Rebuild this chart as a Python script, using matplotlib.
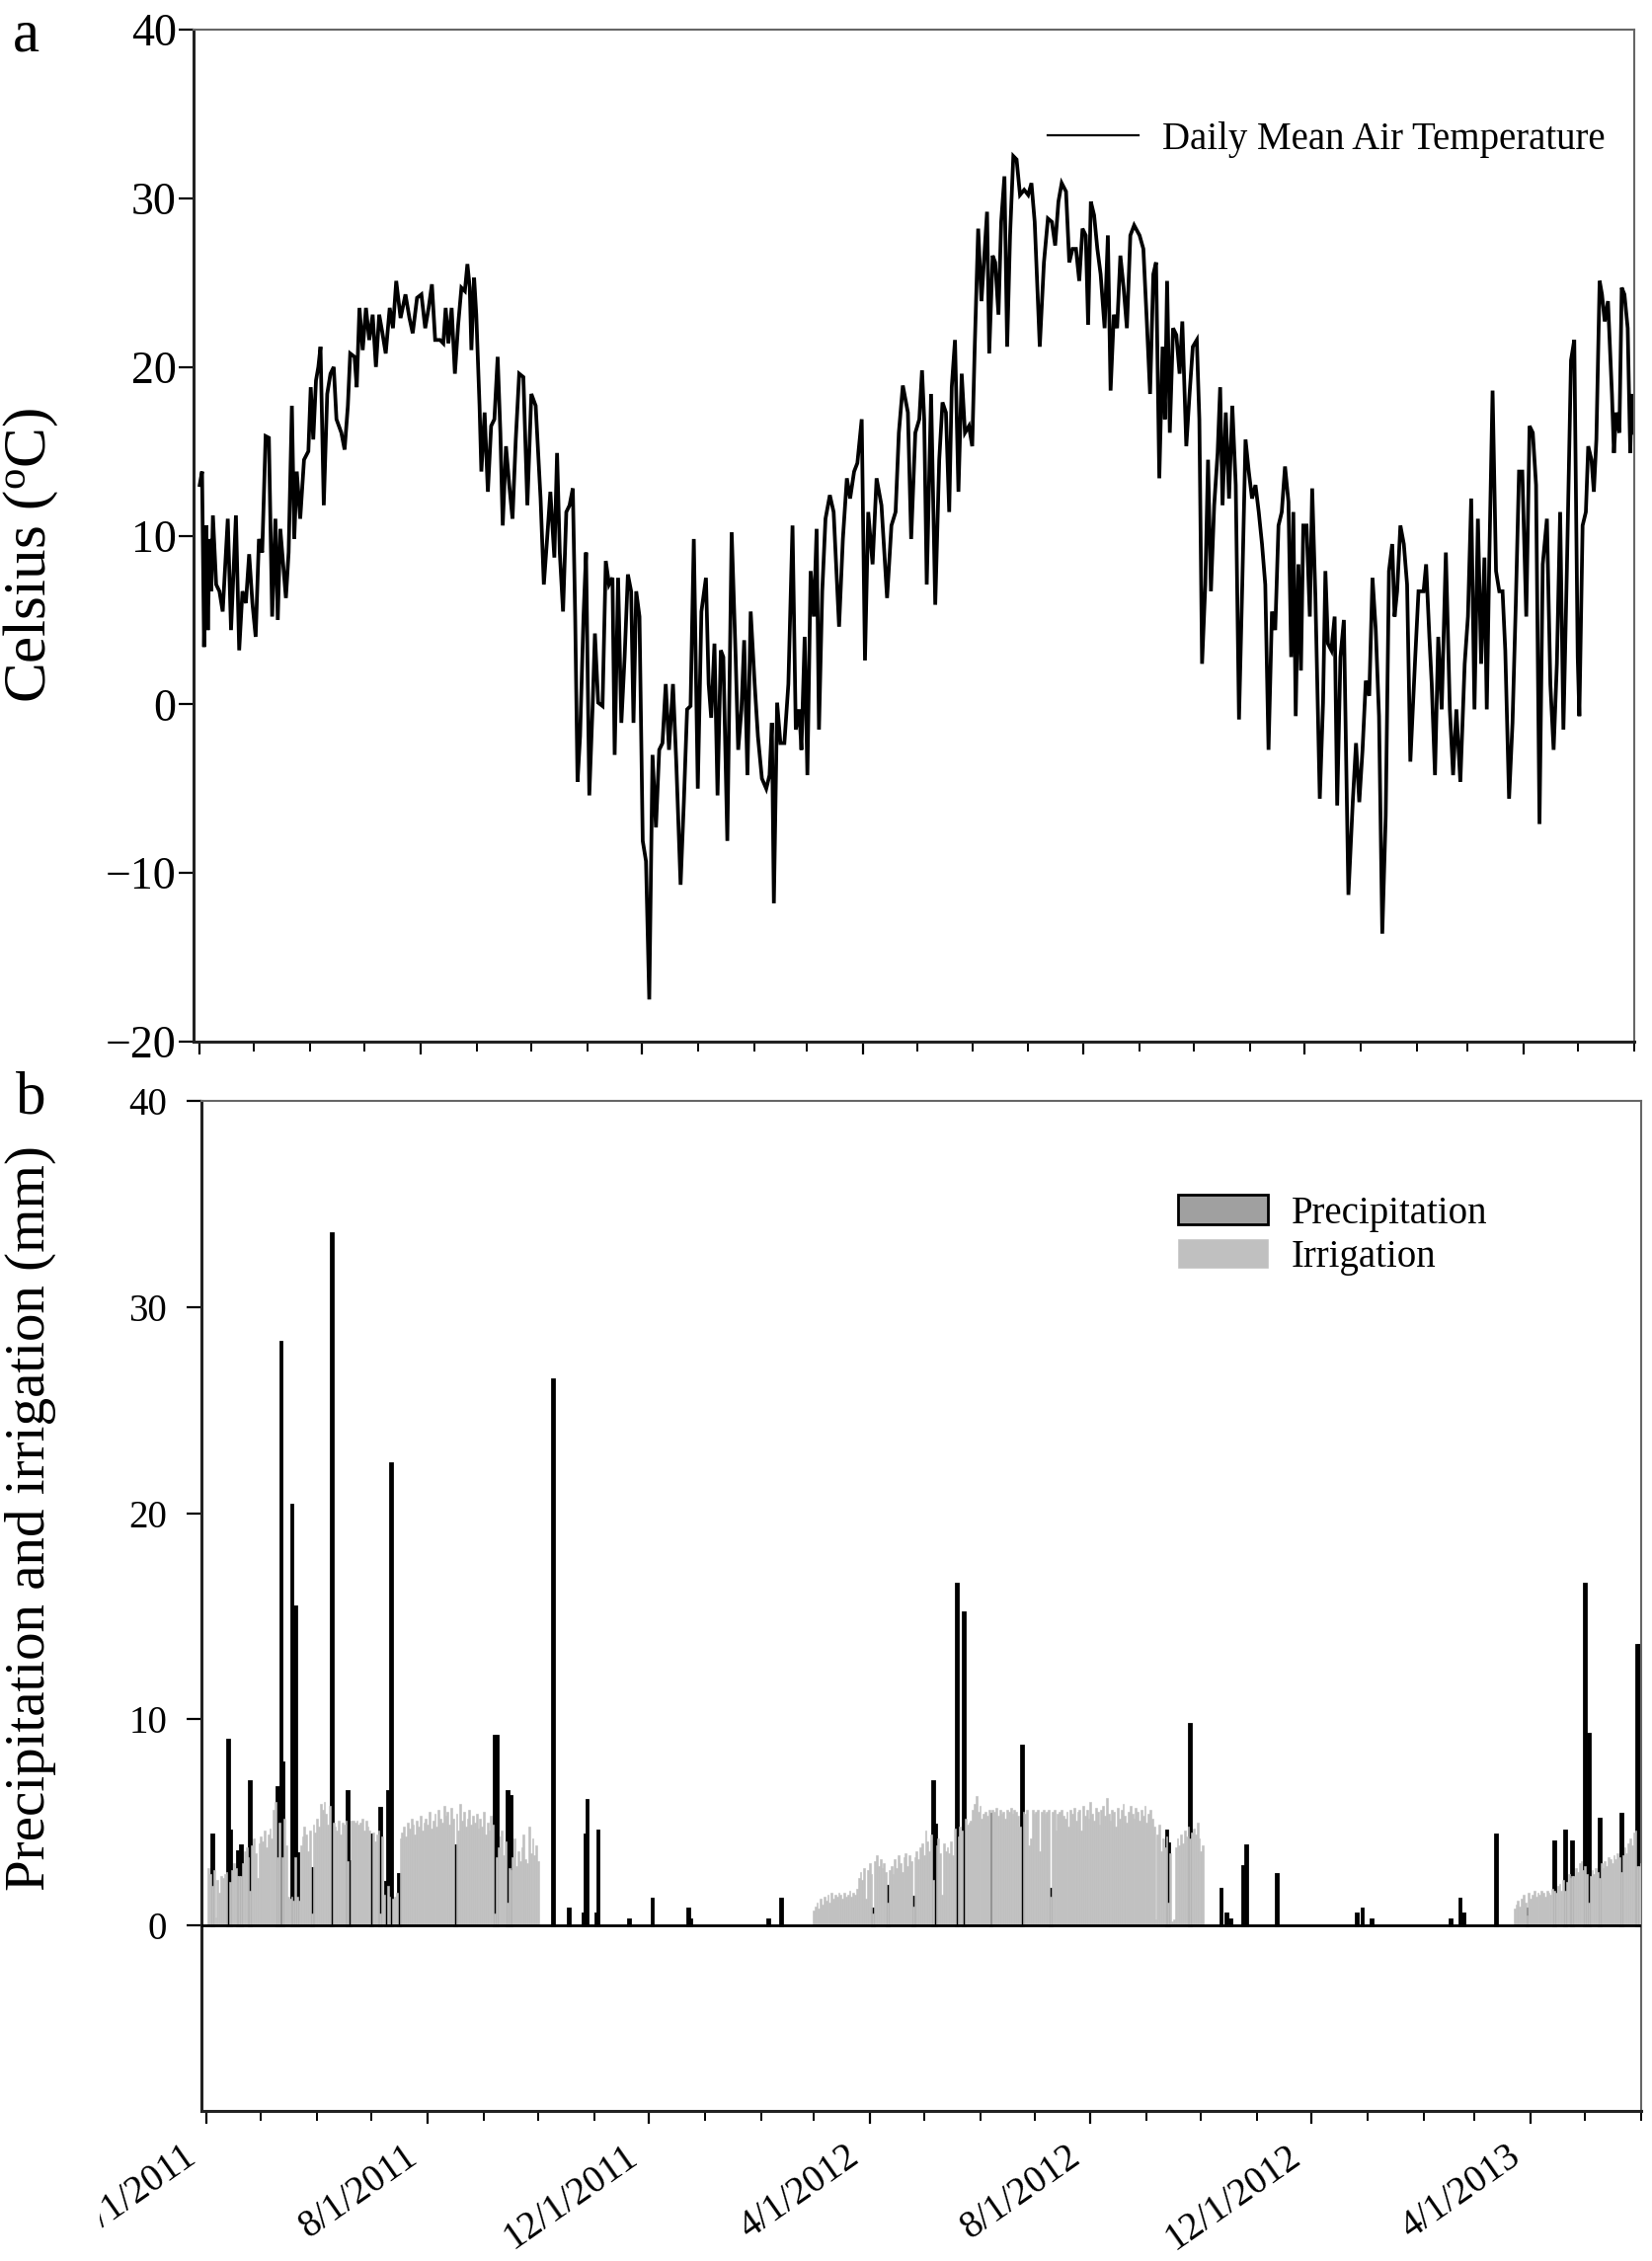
import matplotlib
matplotlib.use('Agg')
import matplotlib.pyplot as plt
import matplotlib.dates as mdates
from matplotlib.ticker import FixedLocator, NullFormatter
from matplotlib.transforms import Bbox, TransformedBbox, ScaledTranslation
from datetime import datetime
import numpy as np

plt.rcParams['font.family'] = ['Liberation Serif', 'DejaVu Serif']
plt.rcParams['mathtext.fontset'] = 'custom'
plt.rcParams['mathtext.rm'] = 'Liberation Serif'
plt.rcParams['mathtext.it'] = 'Liberation Serif:italic'
plt.rcParams['axes.unicode_minus'] = True

# ---------------- data ----------------
START = datetime(2011, 4, 1)

# (days since 4/1/2011, daily mean air temperature in deg C)
temp_readings = [
 (0.0,13.0),(1.3,13.8),(2.4,3.4),(3.6,10.6),(4.5,4.4),(5.5,9.8),(6.4,6.7),(7.3,11.2),(9.1,7.1),(10.9,6.7),
 (12.7,5.5),(15.5,11.0),(17.3,4.4),(20.0,11.2),(21.8,3.2),(23.6,6.7),(25.5,6.0),(27.3,8.9),(29.1,6.0),(30.9,4.0),
 (32.7,9.8),(34.5,9.0),(36.4,15.9),(38.2,15.8),(40.0,5.2),(41.8,11.0),(43.1,5.0),(44.5,10.4),(46.4,7.9),(47.6,6.3),
 (49.1,9.0),(50.9,17.7),(52.2,9.8),(53.6,13.8),(55.5,11.0),(57.6,14.5),(60.0,15.0),(61.3,18.8),(62.7,15.7),(64.2,19.2),
 (65.5,20.0),(66.7,21.2),(68.5,11.8),(70.4,18.4),(72.2,19.6),(74.0,20.0),(75.5,16.9),(78.2,16.1),(80.0,15.1),(81.8,17.7),
 (83.1,20.8),(85.5,20.6),(86.7,18.8),(88.2,23.5),(90.0,21.0),(91.8,23.5),(93.6,21.6),(95.5,23.1),(97.3,20.0),(99.1,23.1),
 (100.9,22.0),(102.7,20.8),(104.9,23.5),(106.7,22.3),(108.5,25.1),(110.9,22.9),(113.6,24.3),(115.8,22.9),(117.6,22.0),(120.0,24.1),
 (122.4,24.3),(124.5,22.3),(126.4,23.5),(128.2,24.9),(130.0,21.6),(132.7,21.6),(134.5,21.4),(135.8,23.5),(137.3,21.4),(139.1,23.5),
 (140.9,19.6),(142.7,22.5),(144.5,24.7),(146.4,24.5),(147.8,26.1),(149.1,24.7),(150.0,21.0),(151.5,25.3),(152.7,23.1),(154.5,17.7),
 (155.5,13.8),(157.3,17.3),(159.1,12.6),(160.9,16.5),(162.7,16.9),(164.5,20.6),(166.0,16.1),(167.3,10.6),(169.1,15.3),(170.9,13.0),
 (172.7,11.0),(174.5,15.7),(176.4,19.6),(178.7,19.4),(180.9,11.8),(183.1,18.4),(185.5,17.7),(188.2,12.2),(190.0,7.1),(191.8,9.8),
 (193.6,12.6),(195.8,8.7),
 (197.3,14.9),(198.8,9.0),(200.6,5.5),(202.4,11.4),(204.2,11.8),(206.0,12.8),(207.3,5.2),(208.6,-4.6),(210.0,-1.9),(211.9,5.2),
 (213.3,9.0),(215.1,-5.4),(217.0,0.1),(218.2,4.2),(220.0,0.1),(222.4,-0.1),(224.2,8.5),(226.0,7.1),(227.9,7.5),(229.1,-3.0),
 (231.0,7.5),(232.8,-1.1),(234.6,2.8),(236.4,7.7),(238.2,6.7),(239.5,-1.1),(241.0,6.7),(242.8,5.2),(244.6,-8.1),(246.4,-9.3),
 (248.2,-17.5),(250.0,-3.0),(251.9,-7.3),(253.7,-2.7),(255.5,-2.3),(257.3,1.2),(259.1,-2.7),(261.3,1.2),(263.1,-3.4),(265.5,-10.7),
 (267.3,-5.8),(269.1,-0.3),(271.0,-0.1),(272.8,9.8),(275.0,-5.0),(277.0,5.5),(279.5,7.5),(281.0,1.2),(282.4,-0.8),(284.2,3.6),
 (285.9,-5.4),(287.7,3.2),(289.1,2.8),(291.3,-8.1),(293.7,10.2),(295.9,2.8),(297.3,-2.7),(299.1,-0.3),(300.6,3.8),(302.4,-4.2),
 (304.2,5.5),(306.4,1.2),(308.2,-1.9),(310.4,-4.4),(312.8,-5.0),(314.6,-4.2),(315.9,-1.1),(317.0,-11.8),(318.8,0.1),(320.6,-2.3),
 (322.8,-2.3),(325.0,1.2),(327.3,10.6),(329.1,-1.5),(331.0,-0.3),(332.2,-2.7),(334.0,4.0),(335.5,-4.2),(337.3,7.9),(339.1,5.2),
 (340.6,10.4),(341.9,-1.5),(343.7,6.7),(345.5,11.0),(347.9,12.4),(350.0,11.4),(353.0,4.6),(355.1,9.8),(357.3,13.4),(359.1,12.2),
 (361.3,13.8),(363.1,14.3),(365.5,16.9),(367.3,2.6),(369.1,11.4),(371.5,8.3),(373.7,13.4),(376.4,11.8),(379.5,6.3),(381.9,10.6),
 (384.2,11.4),(386.0,16.1),(388.2,18.9),(391.0,17.3),(392.8,9.8),(395.1,16.1),(397.3,16.9),(398.8,19.8),(400.0,16.9),
 (401.4,7.1),(403.8,18.4),(406.1,5.9),(408.3,14.5),(410.1,17.9),(412.0,17.3),(413.8,11.4),(415.2,18.8),(417.0,21.6),(418.9,12.6),
 (420.7,19.6),(422.5,16.1),(424.7,16.5),(426.5,15.3),(427.9,21.2),(429.8,28.2),(431.6,23.9),(433.4,27.0),(434.7,29.2),(435.9,20.8),
 (437.8,26.6),(439.2,26.2),(441.0,23.1),(442.5,28.6),(444.3,31.3),(445.8,21.2),(447.4,27.8),(449.2,32.5),(451.0,32.3),(452.9,30.2),
 (455.2,30.5),(457.4,30.2),(459.2,30.9),(461.0,28.6),(463.8,21.2),(466.1,26.2),(468.3,28.8),(470.5,28.6),(472.3,27.2),(474.1,29.8),
 (475.9,30.9),(478.3,30.4),(480.1,26.2),(481.9,27.0),(483.8,27.0),(485.6,25.1),(487.4,28.2),(489.2,27.8),(490.5,22.5),(492.0,29.8),
 (493.8,29.0),(495.6,27.0),(497.4,25.5),(499.6,22.3),(501.4,27.8),(502.9,18.6),(504.7,23.1),(506.5,22.3),(508.3,26.6),(510.1,24.7),
 (511.9,22.3),(513.8,27.8),(515.9,28.4),(518.9,27.8),(521.0,27.0),(522.9,22.7),(524.7,18.4),(526.5,25.5),(528.0,26.2),(529.8,13.4),
 (531.6,21.2),(532.9,16.9),(534.1,25.1),(535.6,16.1),(537.4,22.3),(539.2,21.9),(541.0,19.6),(542.5,22.7),(544.7,15.3),(546.5,18.4),
 (548.3,21.2),(550.5,21.6),(551.9,16.9),(553.4,2.4),(555.2,7.1),(556.7,14.5),(558.3,6.7),(560.1,11.8),(562.0,14.9),(563.4,18.8),
 (564.7,11.8),(566.5,17.3),(568.3,12.2),(570.1,17.7),(572.0,13.0),(573.8,-0.9),(575.6,7.1),(577.4,15.7),(579.2,13.8),(581.0,12.2),
 (582.9,13.0),(584.7,11.4),(586.5,9.5),(588.3,7.1),(590.1,-2.7),(592.0,5.5),(593.8,4.4),(595.6,10.6),(597.4,11.4),(599.2,14.1),
 (601.1,12.0),(602.6,2.8),(603.8,11.4),(605.1,-0.7),(606.6,8.3),(608.0,2.0),(609.3,10.6),(611.1,10.6),(612.9,5.2),(614.2,12.8),
 (616.0,6.3),(618.4,-5.6),(620.2,0.1),(621.5,7.9),(622.9,3.6),(624.8,3.2),(626.6,5.2),(628.0,-6.0),(629.8,2.8),(631.7,5.0),
 (634.2,-11.3),(636.6,-5.8),(638.4,-2.3),(640.2,-5.8),(642.0,-2.7),(643.8,1.4),(645.7,0.5),(647.5,7.5),(649.3,4.4),(651.1,-0.7),
 (652.9,-13.6),(654.8,-6.6),(656.6,7.9),(658.4,9.5),(659.7,5.2),(661.1,6.7),(662.9,10.6),(664.8,9.5),(666.6,7.1),(668.4,-3.4),
 (671.1,2.8),(672.9,6.7),(675.7,6.7),(677.1,8.3),(678.9,4.0),(680.2,1.2),(682.0,-4.2),(683.8,4.0),(685.7,-0.3),(688.0,9.0),
 (690.2,-0.3),(692.0,-4.2),(693.8,-0.3),(696.0,-4.6),(698.4,2.4),(700.2,5.2),(702.0,12.2),(703.8,-0.3),(705.7,11.0),(707.5,2.4),
 (709.3,8.7),(710.6,-0.3),(712.0,8.7),(713.8,18.6),(715.7,7.9),(717.5,6.7),(719.3,6.7),(720.8,3.2),(722.9,-5.6),(724.8,-1.1),
 (726.6,5.9),(728.4,13.8),(730.2,13.8),(732.4,5.2),(734.2,16.5),(736.0,16.1),(737.8,13.0),(739.7,-7.1),(741.5,8.3),(743.8,11.0),
 (745.7,1.2),(747.5,-2.7),(749.3,2.4),(751.1,11.4),(752.9,-1.5),(754.8,7.9),(757.1,20.4),(758.9,21.6),(760.8,2.8),(761.7,-0.7),
 (763.5,10.6),(765.3,11.4),(766.6,15.3),(768.4,14.5),(769.7,12.6),(771.1,15.7),(772.9,25.1),(774.2,24.3),(775.7,22.7),(777.5,23.9),
 (779.7,18.4),(780.8,14.9),(782.0,17.3),(783.8,16.1),(785.1,24.7),(786.6,24.3),(788.4,22.3),(789.8,14.9),(790.6,18.4),(791.7,16.1),
]
temp_day = [p[0] for p in temp_readings]
temp_c = [p[1] for p in temp_readings]

# precipitation events (days since 4/1/2011, mm)
precip_day = [3, 12, 13, 17, 19, 24, 39, 41, 42, 47, 49, 50, 58, 69, 78, 79, 91, 96, 99, 100,
              102, 106, 137, 159, 160, 166, 168, 191, 200, 208, 209, 210, 215, 216, 233, 246, 266, 267, 310, 317,
              368, 376, 390, 401, 402, 414, 418, 433, 450, 466, 530, 531, 543, 560, 563, 565, 572, 574, 591, 635,
              638, 643, 687, 692, 694, 712, 729, 744, 750, 754, 761, 763, 769, 781, 790, 791]
precip_mm = [4.4, 9.0, 4.6, 3.6, 3.9, 7.0, 6.7, 28.3, 7.9, 20.4, 15.5, 3.5, 2.8, 33.6, 6.5, 3.1, 4.4, 5.7, 2.1, 6.5,
             22.4, 2.5, 3.9, 9.2, 9.2, 6.5, 6.3, 26.5, 0.8, 0.6, 4.4, 6.1, 0.6, 4.6, 0.3, 1.3, 0.8, 0.3, 0.3, 1.3,
             0.8, 1.9, 1.4, 7.0, 4.9, 16.6, 15.2, 5.4, 8.7, 1.8, 4.6, 4.0, 9.8, 1.8, 0.6, 0.3, 2.9, 3.9, 2.5, 0.6,
             0.8, 0.3, 0.3, 1.3, 0.6, 4.4, 0.8, 4.1, 4.6, 4.1, 16.6, 9.3, 5.2, 5.4, 13.6, 13.6]

# daily irrigation (mm), three seasons; first day of each season in days since 4/1/2011
irr2011_first_day = 1
irr2011 = [2.8, 2.5, 1.9, 2.7, 0.4, 2.2, 1.6, 2.4, 2.3, 2.5,
           2.6, 0.0, 2.1, 2.7, 3.0, 2.8, 2.4, 2.4, 2.4, 3.0,
           3.6, 3.8, 3.3, 1.7, 3.9, 4.2, 3.5, 2.3, 4.0, 4.3,
           4.1, 4.6, 3.8, 4.4, 4.7, 4.2, 5.6, 6.0, 3.3, 5.0,
           0.0, 3.3, 5.2, 3.9, 1.4, 1.3, 1.4, 1.2, 3.3, 1.4,
           1.2, 3.9, 4.3, 4.8, 4.4, 3.6, 4.6, 0.6, 4.9, 4.5,
           5.2, 4.8, 5.9, 5.6, 6.0, 5.4, 4.9, 5.8, 0.0, 5.0,
           4.8, 4.6, 5.1, 4.4, 5.0, 4.9, 5.1, 3.1, 0.0, 5.1,
           5.1, 5.0, 5.1, 4.9, 5.0, 5.2, 4.6, 5.1, 4.8, 4.6,
           0.0, 4.5, 4.1, 4.4, 4.6, 0.6, 4.3, 1.5, 0.0, 1.9,
           1.4, 0.0, 1.3, 1.4, 1.6, 0.0, 4.2, 4.5, 4.8, 4.3,
           5.0, 4.7, 5.2, 4.9, 4.4, 5.1, 4.8, 5.3, 4.6, 5.0,
           5.2, 4.9, 5.5, 4.7, 5.1, 5.4, 4.8, 5.6, 5.2, 5.0,
           5.8, 5.3, 5.5, 4.9, 5.7, 5.2, 0.0, 5.4, 4.6, 5.9,
           5.1, 5.5, 4.8, 5.2, 5.6, 4.9, 5.3, 5.0, 5.4, 4.7,
           5.2, 4.8, 5.5, 4.4, 5.0, 4.6, 5.3, 4.9, 0.6, 3.3,
           3.8, 4.3, 4.6, 3.4, 4.1, 1.1, 2.8, 2.7, 3.3, 4.2,
           2.9, 3.6, 3.1, 3.8, 4.4, 3.2, 3.0, 4.8, 3.5, 4.2,
           3.4, 3.9, 3.1]
irr2012_first_day = 335
irr2012 = [0.7, 0.9, 1.1, 0.8, 1.3, 1.0, 1.4, 1.2, 1.5, 1.1,
           1.6, 1.3, 1.5, 1.4, 1.6, 1.5, 1.3, 1.6, 1.4, 1.5,
           1.7, 1.4, 1.6, 1.5, 1.8, 2.3, 2.6, 2.2, 2.8, 1.3,
           2.7, 3.0, 2.5, 0.6, 3.1, 3.4, 2.9, 3.2, 2.8, 3.0,
           2.6, 1.1, 2.7, 2.9, 2.5, 3.2, 2.8, 3.4, 3.0, 2.6,
           3.3, 3.5, 2.9, 3.4, 3.1, 0.9, 3.3, 3.6, 3.2, 3.8,
           4.0, 3.4, 4.6, 4.1, 3.6, 4.4, 2.2, 0.0, 3.9, 4.2,
           3.5, 1.5, 4.0, 3.6, 3.8, 3.5, 4.1, 3.4, 4.7, 0.0,
           4.3, 4.8, 4.6, 0.0, 5.2, 4.9, 5.0, 5.1, 5.6, 5.9,
           6.3, 5.5, 5.8, 5.2, 5.4, 5.5, 5.3, 5.6, 0.0, 5.6,
           5.5, 5.7, 5.3, 5.6, 5.4, 5.5, 5.2, 5.6, 5.5, 5.7,
           5.4, 5.6, 5.5, 5.3, 4.8, 0.0, 5.5, 5.4, 5.6, 3.9,
           4.2, 5.6, 5.4, 5.5, 5.6, 3.6, 5.5, 5.6, 5.4, 5.5,
           5.6, 1.4, 5.5, 5.6, 4.6, 5.4, 5.5, 5.6, 5.3, 5.2,
           5.5, 4.8, 5.6, 5.4, 5.7, 5.1, 5.5, 5.6, 4.6, 5.8,
           5.3, 5.6, 5.2, 6.0, 5.4, 5.1, 5.7, 5.5, 4.9, 5.6,
           5.8, 5.3, 6.2, 5.4, 5.1, 5.6, 5.5, 4.8, 5.7, 5.2,
           5.6, 5.9, 5.3, 5.0, 5.5, 5.8, 5.4, 5.2, 5.7, 5.5,
           5.1, 5.6, 5.3, 5.8, 5.0, 5.4, 5.6, 5.2, 4.8, 0.3,
           4.4, 4.9, 3.6, 4.2, 3.8, 4.3, 1.1, 3.5, 0.2, 0.3,
           3.8, 4.2, 3.9, 4.4, 4.0, 4.6, 4.3, 4.8, 4.2, 4.5,
           4.7, 4.4, 5.0, 4.2, 3.6, 3.9]
irr2013_first_day = 722
irr2013 = [0.8, 1.0, 1.2, 0.9, 1.3, 1.5, 1.1, 0.5, 1.6, 1.3,
           1.5, 1.7, 1.4, 1.6, 1.5, 1.7, 1.6, 1.4, 1.7, 1.6,
           1.5, 1.8, 1.7, 1.6, 1.9, 2.0, 1.7, 2.2, 1.7, 2.1,
           2.5, 2.3, 2.4, 2.4, 2.8, 2.6, 3.0, 3.1, 2.7, 2.9,
           2.5, 1.1, 2.4, 2.7, 2.5, 2.8, 2.6, 2.3, 3.0, 2.8,
           3.1, 2.9, 3.3, 3.2, 3.0, 3.4, 3.2, 3.5, 3.3, 2.6,
           3.4, 3.8, 3.5, 4.0, 4.2, 3.9, 4.5, 4.6, 2.9, 2.9, 3.0]

major_tick_labels = ['4/1/2011', '8/1/2011', '12/1/2011', '4/1/2012',
                     '8/1/2012', '12/1/2012', '4/1/2013']
temp_yticks = [-20, -10, 0, 10, 20, 30, 40]
water_yticks = [0, 10, 20, 30, 40]

# ---------------- helpers ----------------
base = mdates.date2num(START)
def to_num(days):
    return base + np.asarray(days, dtype=float)

major_locs = [mdates.date2num(datetime.strptime(s, '%m/%d/%Y')) for s in major_tick_labels]

irr_days = np.concatenate([irr2011_first_day + np.arange(len(irr2011)),
                           irr2012_first_day + np.arange(len(irr2012)),
                           irr2013_first_day + np.arange(len(irr2013))])
irr_vals = np.concatenate([irr2011, irr2012, irr2013])

# ---------------- figure ----------------
W, H = 1673, 2290
fig = plt.figure(figsize=(W / 100, H / 100), dpi=100)

ax_a = fig.add_axes([196 / W, 1 - 1055 / H, (1655 - 196) / W, (1055 - 30) / H])
ax_b = fig.add_axes([204 / W, 1 - 2138 / H, (1662 - 204) / W, (2138 - 1115) / H])

TICK_FS_A = 33
TICK_FS = 28

# ---- panel a ----
ax_a.plot(to_num(temp_day), temp_c, color='black', lw=2.7,
          label='Daily Mean Air Temperature', solid_joinstyle='miter')
ax_a.set_xlim(base - 3.4, base + 792)
ax_a.set_ylim(-20, 40)
ax_a.set_yticks(temp_yticks)
ax_a.xaxis.set_major_locator(FixedLocator(major_locs))
ax_a.xaxis.set_minor_locator(mdates.MonthLocator())
ax_a.xaxis.set_major_formatter(NullFormatter())
ax_a.xaxis.set_minor_formatter(NullFormatter())
ax_a.tick_params(axis='y', direction='out', length=11, width=1.6, pad=1.5, labelsize=TICK_FS_A)
ax_a.tick_params(axis='x', which='major', direction='out', length=9, width=1.6)
ax_a.tick_params(axis='x', which='minor', direction='out', length=7, width=1.4)
leg_a = ax_a.legend(loc='center left', bbox_to_anchor=(1061 / W, 1 - 141 / H),
                    bbox_transform=fig.transFigure, frameon=False, fontsize=TICK_FS,
                    handlelength=2.37, handletextpad=0.62, borderpad=0, borderaxespad=0)
for ln in leg_a.get_lines():
    ln.set_linewidth(1.6)

# ---- panel b ----
ax_b.bar(to_num(precip_day), precip_mm, width=1.0, facecolor='#a0a0a0',
         edgecolor='black', linewidth=2.0, zorder=2, label='Precipitation')
ax_b.bar(to_num(irr_days), irr_vals, width=1.0, color='#c0c0c0',
         edgecolor='#c0c0c0', linewidth=0.4, zorder=3, label='Irrigation')
ax_b.axhline(0, color='black', lw=2.0, zorder=4)
ax_b.set_xlim(base - 2.9, base + 792)
ax_b.set_ylim(-9, 40)
ax_b.set_yticks(water_yticks)
ax_b.xaxis.set_major_locator(FixedLocator(major_locs))
ax_b.xaxis.set_minor_locator(mdates.MonthLocator())
ax_b.xaxis.set_minor_formatter(NullFormatter())
ax_b.set_xticklabels(major_tick_labels, rotation=35, ha='right', rotation_mode='anchor')
ax_b.tick_params(axis='y', direction='out', length=11, width=1.6, pad=14, labelsize=TICK_FS)
ax_b.tick_params(axis='x', which='major', direction='out', length=9, width=1.6, pad=11,
                 labelsize=TICK_FS)
ax_b.tick_params(axis='x', which='minor', direction='out', length=7, width=1.4)
leg_b = ax_b.legend(loc='center left', bbox_to_anchor=(1193 / W, 1 - 1251 / H),
                    bbox_transform=fig.transFigure, frameon=False, fontsize=TICK_FS,
                    handlelength=2.34, handleheight=0.8, handletextpad=0.62, labelspacing=0.18,
                    borderpad=0, borderaxespad=0)

# shift the rotated date labels, and hide the part of the first one that is cut off in the original
shift = ScaledTranslation(-25 / 100, 0.0, fig.dpi_scale_trans)
for lbl in ax_b.get_xticklabels():
    lbl.set_transform(lbl.get_transform() + shift)
first_lbl = ax_b.get_xticklabels()[0]
first_lbl.set_clip_box(TransformedBbox(Bbox([[101 / W, 0.0], [1.0, 1.0]]), fig.transFigure))
first_lbl.set_clip_on(True)

for ax in (ax_a, ax_b):
    ax.spines['left'].set_linewidth(2.2)
    ax.spines['bottom'].set_linewidth(2.2)
    ax.spines['left'].set_color('#222222')
    ax.spines['bottom'].set_color('#222222')
    ax.spines['top'].set_linewidth(1.5)
    ax.spines['right'].set_linewidth(1.5)
    ax.spines['top'].set_color('#666666')
    ax.spines['right'].set_color('#666666')

# ---- labels ----
fig.text(31 / W, 1 - 562 / H, r'Celsius ($^{\rm o}$C)', rotation=90,
         ha='center', va='center', fontsize=44)
fig.text(31 / W, 1 - 1538 / H, 'Precipitation and irrigation (mm)', rotation=90,
         ha='center', va='center', fontsize=41)
fig.text(13 / W, 1 - 52 / H, 'a', fontsize=44, ha='left', va='baseline')
fig.text(16 / W, 1 - 1127 / H, 'b', fontsize=44, ha='left', va='baseline')

fig.savefig('out.png', dpi=100)
